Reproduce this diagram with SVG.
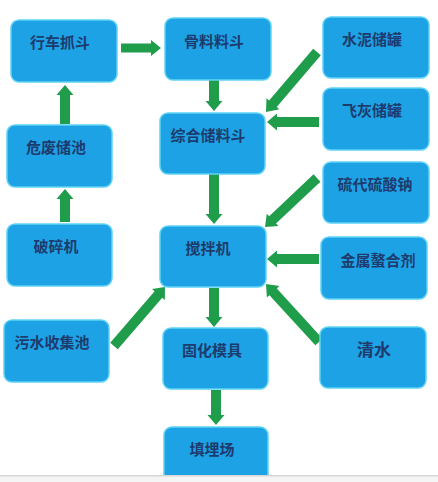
<svg xmlns="http://www.w3.org/2000/svg" width="438" height="482" viewBox="0 0 438 482">
<style>
.box{fill:#1ea2e6;stroke:#5fd3f3;stroke-width:1.5}
.t{font-family:"Noto Sans CJK SC","Noto Sans CJK TC",sans-serif;font-size:15px;font-weight:bold;fill:#1d3b6c;text-anchor:middle}
.arr{fill:#1f9d4b}
</style>
<rect width="438" height="482" fill="#ffffff"/>
<g id="connectors" class="arr">
<path transform="translate(121,48) rotate(0)" d="M0,-4.5H30V-8L40,0L30,8V4.5H0Z"/>
<path transform="translate(65,124) rotate(-90)" d="M0,-5H29V-8.5L39,0L29,8.5V5H0Z"/>
<path transform="translate(65,222) rotate(-90)" d="M0,-5H23V-8.5L33,0L23,8.5V5H0Z"/>
<path transform="translate(214,80) rotate(90)" d="M0,-5H21V-8.5L31,0L21,8.5V5H0Z"/>
<path transform="translate(214,174) rotate(90)" d="M0,-5H40V-8.5L50,0L40,8.5V5H0Z"/>
<path transform="translate(214,288) rotate(90)" d="M0,-5H29V-8.5L39,0L29,8.5V5H0Z"/>
<path transform="translate(216,390) rotate(90)" d="M0,-5H25V-8.5L35,0L25,8.5V5H0Z"/>
<path transform="translate(317,52) rotate(130.4)" d="M0,-5H68V-8.5L78.7,0L68,8.5V5H0Z"/>
<path transform="translate(319,122) rotate(180)" d="M0,-5H42V-8.5L52,0L42,8.5V5H0Z"/>
<path transform="translate(317,178) rotate(136.7)" d="M0,-5H61V-8.5L71.4,0L61,8.5V5H0Z"/>
<path transform="translate(319,259) rotate(180)" d="M0,-5H42V-8.5L52,0L42,8.5V5H0Z"/>
<path transform="translate(319,342) rotate(-132.4)" d="M0,-5H68V-8.5L78.6,0L68,8.5V5H0Z"/>
<path transform="translate(114,346) rotate(-49.2)" d="M0,-5H68V-8.5L78,0L68,8.5V5H0Z"/>
</g>
<g id="n-xingche"><rect class="box" x="11" y="20" width="106" height="62" rx="8"/><text class="t" x="60" y="48">行车抓斗</text></g>
<g id="n-weifei"><rect class="box" x="7" y="125" width="105" height="62" rx="8"/><text class="t" x="56" y="153">危废储池</text></g>
<g id="n-posui"><rect class="box" x="7" y="224" width="105" height="62" rx="8"/><text class="t" x="56" y="252">破碎机</text></g>
<g id="n-wushui"><rect class="box" x="4" y="320" width="105" height="62" rx="8"/><text class="t" x="52" y="348">污水收集池</text></g>
<g id="n-guliao"><rect class="box" x="165" y="18" width="106" height="62" rx="8"/><text class="t" x="214" y="47">骨料料斗</text></g>
<g id="n-zonghe"><rect class="box" x="160" y="113" width="105" height="61" rx="8"/><text class="t" x="208" y="141">综合储料斗</text></g>
<g id="n-jiaoban"><rect class="box" x="160" y="226" width="106" height="61" rx="8"/><text class="t" x="208" y="254">搅拌机</text></g>
<g id="n-guhua"><rect class="box" x="163" y="328" width="105" height="61" rx="8"/><text class="t" x="212" y="356">固化模具</text></g>
<g id="n-tianmai"><rect class="box" x="164" y="427" width="104" height="60" rx="8"/><text class="t" x="212" y="455">填埋场</text></g>
<g id="n-shuini"><rect class="box" x="323" y="17" width="106" height="61" rx="8"/><text class="t" x="372" y="45">水泥储罐</text></g>
<g id="n-feihui"><rect class="box" x="323" y="88" width="106" height="62" rx="8"/><text class="t" x="372" y="116">飞灰储罐</text></g>
<g id="n-liudai"><rect class="box" x="323" y="162" width="106" height="61" rx="8"/><text class="t" x="375" y="190">硫代硫酸钠</text></g>
<g id="n-jinshu"><rect class="box" x="321" y="237" width="106" height="62" rx="8"/><text class="t" x="378" y="266">金属螯合剂</text></g>
<g id="n-qingshui"><rect class="box" x="320" y="327" width="106" height="61" rx="8"/><text class="t" x="374" y="356" style="font-size:17px">清水</text></g>
<rect x="0" y="475" width="438" height="7" fill="#f5f5f5"/>
<rect x="0" y="475" width="438" height="1.5" fill="#d6d6d6"/>
</svg>
